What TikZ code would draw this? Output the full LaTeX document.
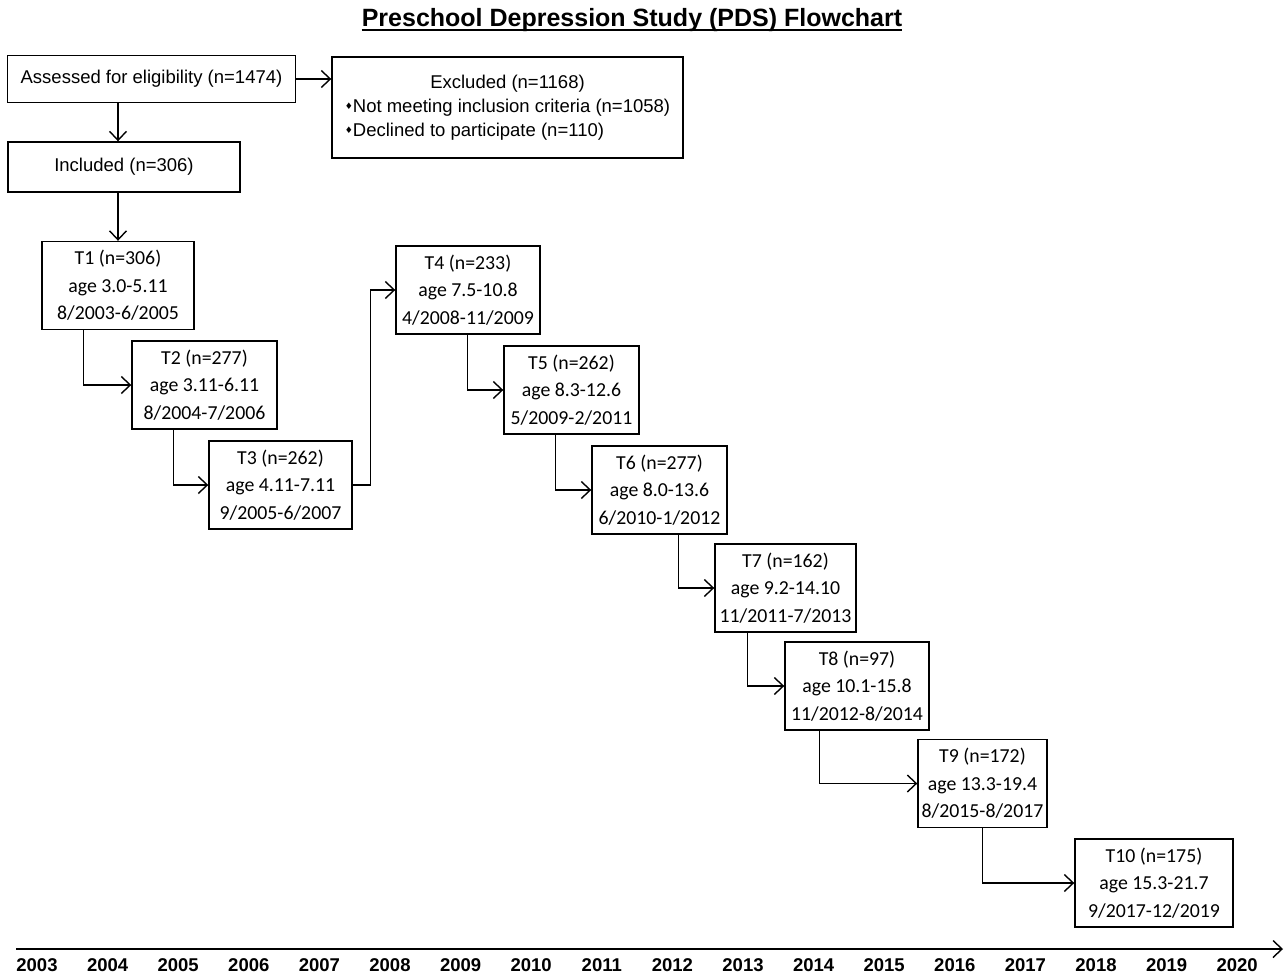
\documentclass[tikz,border=0pt]{standalone}
\usepackage{fontspec}
\usepackage{graphicx}
\setmainfont{Liberation Sans}
\newfontfamily\waveFont{Carlito}
\newfontfamily\symFont{DejaVu Sans}
\usetikzlibrary{arrows.meta}

% small diamond bullet
\newcommand{\dmd}{{\symFont\fontsize{9}{9}\selectfont\raisebox{3pt}{♦}}}

\begin{document}
\begin{tikzpicture}[x=1pt, y=-1pt,
  gate/.style={draw, line width=1.4pt, inner sep=0pt, font=\fontsize{18.5}{24}\selectfont},
  visit/.style={draw, line width=1.4pt, inner sep=0pt, align=center, minimum height=88pt,
                font=\waveFont\fontsize{19.8}{27.5}\selectfont},
  flow/.style={-{Straight Barb[length=9pt,width=17pt,line width=1.4pt]}, line width=1.4pt},
  year/.style={inner sep=0pt, font=\bfseries\fontsize{18.5}{18.5}\selectfont}]

  \useasboundingbox (0,0) rectangle (1287,975);

  % Title
  \node[inner sep=0pt, font=\bfseries\fontsize{25}{30}\selectfont] (title) at (632,20)
    {Preschool Depression Study (PDS) Flowchart};
  \draw[line width=2pt] ([yshift=-4pt]title.base west) -- ([yshift=-4pt]title.base east);

  % Enrollment
  \node[gate, minimum width=288pt, minimum height=47pt] (assess) at (151.5,79)
    {Assessed for eligibility (n=1474)};
  \node[gate, minimum width=351pt, minimum height=101pt] (excl) at (507.5,107.5)
    {\begin{tabular}{@{}l@{}}
       \multicolumn{1}{@{}c@{}}{Excluded (n=1168)}\\
       \dmd Not meeting inclusion criteria (n=1058)\\
       \dmd Declined to participate (n=110)
     \end{tabular}};
  \node[gate, minimum width=232pt, minimum height=50pt] (incl) at (124,167)
    {Included (n=306)};

  % Assessment waves
  \node[visit, minimum width=152pt] (t1)  at (118,285.5)  {T1 (n=306)\\age 3.0-5.11\\8/2003-6/2005};
  \node[visit, minimum width=145pt] (t2)  at (204.5,385)  {T2 (n=277)\\age 3.11-6.11\\8/2004-7/2006};
  \node[visit, minimum width=143pt] (t3)  at (280.5,485)  {T3 (n=262)\\age 4.11-7.11\\9/2005-6/2007};
  \node[visit, minimum width=144pt] (t4)  at (468,290)    {T4 (n=233)\\age 7.5-10.8\\4/2008-11/2009};
  \node[visit, minimum width=135pt] (t5)  at (571.5,390)  {T5 (n=262)\\age 8.3-12.6\\5/2009-2/2011};
  \node[visit, minimum width=135pt] (t6)  at (659.5,490)  {T6 (n=277)\\age 8.0-13.6\\6/2010-1/2012};
  \node[visit, minimum width=141pt] (t7)  at (785.5,588)  {T7 (n=162)\\age 9.2-14.10\\11/2011-7/2013};
  \node[visit, minimum width=144pt] (t8)  at (857,686)    {T8 (n=97)\\age 10.1-15.8\\11/2012-8/2014};
  \node[visit, minimum width=129pt] (t9)  at (982.5,783.5){T9 (n=172)\\age 13.3-19.4\\8/2015-8/2017};
  \node[visit, minimum width=158pt] (t10) at (1154,883)   {T10 (n=175)\\age 15.3-21.7\\9/2017-12/2019};

  % Connectors
  \coordinate (stem) at (118,0);
  \draw[flow] (assess.south -| stem) -- (incl.north -| stem);
  \draw[flow] (assess.east) -- (assess.east -| excl.west);
  \draw[flow] (incl.south -| stem) -- (t1.north -| stem);
  \foreach \a/\b/\d in {t1/t2/42, t2/t3/42, t4/t5/72, t5/t6/52, t6/t7/87, t7/t8/33, t8/t9/35, t9/t10/65}
    \draw[flow] ([xshift=\d]\a.south west) |- (\b.west);
  \draw[flow] (t3.east) -- ++(18,0) |- (t4.west);

  % Time axis
  \coordinate (axisL) at (16,949);
  \coordinate (axisR) at (1283,949);
  \draw[flow, line width=1.8pt] (axisL) -- (axisR);
  \foreach \i in {0,...,17} {
    \pgfmathtruncatemacro{\yr}{2003+\i}
    \node[year] (y\yr) at (37+70.6*\i,965) {\yr};
  }

\end{tikzpicture}
\end{document}
